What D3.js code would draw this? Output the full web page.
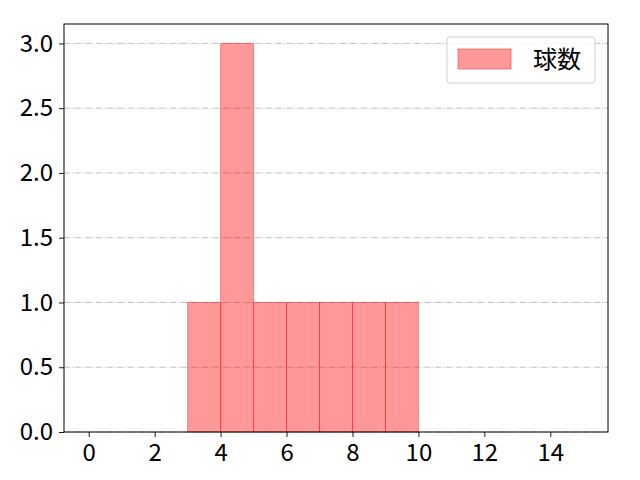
<!DOCTYPE html>
<html><head><meta charset="utf-8">
<script src="https://cdn.jsdelivr.net/npm/d3@7"></script>
<style>body{margin:0;background:#fff}svg{display:block}text{font-family:"Noto Sans CJK JP","Noto Sans",sans-serif}</style>
</head><body><svg id="c" width="640" height="480"></svg>
<script>
const binStarts = [3, 4, 5, 6, 7, 8, 9];
const binEnds = [4, 5, 6, 7, 8, 9, 10];
const counts = [1, 3, 1, 1, 1, 1, 1];
const xTicks = [0, 2, 4, 6, 8, 10, 12, 14];
const yTicks = [0, 0.5, 1.0, 1.5, 2.0, 2.5, 3.0];
const seriesName = "球数";

const svg = d3.select("#c");
const L = 64, R = 608, T = 24, B = 432;
const x = d3.scaleLinear().domain([-0.75, 15.75]).range([L, R]);
const y = d3.scaleLinear().domain([0, 3.15]).range([B, T]);
const fs = 24;

// grid
svg.append("g").selectAll("line").data(yTicks).join("line")
  .attr("x1", L).attr("x2", R).attr("y1", d => y(d)).attr("y2", d => y(d))
  .attr("stroke", "#b0b0b0").attr("stroke-width", 0.8).attr("stroke-dasharray", "6.4,1.6,1,1.6");

// bars
svg.append("g").selectAll("rect").data(counts).join("rect")
  .attr("x", (d, i) => x(binStarts[i])).attr("width", (d, i) => x(binEnds[i]) - x(binStarts[i]))
  .attr("y", d => y(d)).attr("height", d => y(0) - y(d))
  .attr("fill", "rgba(255,0,0,0.4)").attr("stroke", "rgba(255,0,0,0.4)").attr("stroke-width", 1);

// axes
const xa = svg.append("g").attr("transform", `translate(0,${B})`)
  .call(d3.axisBottom(x).tickValues(xTicks).tickFormat(d3.format("d")).tickSize(5).tickPadding(7));
const ya = svg.append("g").attr("transform", `translate(${L},0)`)
  .call(d3.axisLeft(y).tickValues(yTicks).tickFormat(d3.format(".1f")).tickSize(5).tickPadding(6));
[xa, ya].forEach(g => {
  g.select(".domain").remove();
  g.selectAll("line").attr("stroke", "#000").attr("stroke-width", 0.9);
  g.selectAll("text").attr("font-size", fs).attr("fill", "#000").attr("font-family", '"Noto Sans CJK JP",sans-serif');
});

// frame
svg.append("rect").attr("x", L).attr("y", T).attr("width", R - L).attr("height", B - T)
  .attr("fill", "none").attr("stroke", "#000").attr("stroke-width", 1);

// legend
const lg = svg.append("g");
lg.append("rect").attr("x", 447).attr("y", 37).attr("width", 148).attr("height", 46).attr("rx", 3)
  .attr("fill", "rgba(255,255,255,0.8)").attr("stroke", "#d0d0d0").attr("stroke-width", 1);
lg.append("rect").attr("x", 458).attr("y", 49).attr("width", 53).attr("height", 20)
  .attr("fill", "rgba(255,0,0,0.4)").attr("stroke", "rgba(255,0,0,0.4)");
lg.append("text").attr("x", 533).attr("y", 68).attr("font-size", fs).attr("fill", "#000").text(seriesName);
</script></body></html>
